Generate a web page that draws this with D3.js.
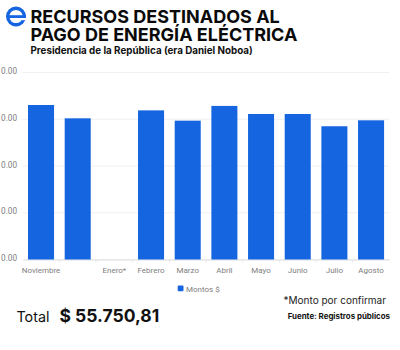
<!DOCTYPE html>
<html>
<head>
<meta charset="utf-8">
<script src="https://cdn.jsdelivr.net/npm/d3@7"></script>
<style>
  html, body { margin: 0; padding: 0; background: #fff; overflow: hidden; }
  svg { display: block; }
</style>
</head>
<body>
<svg id="chart"></svg>
<script>
const categories = ["Noviembre", "Diciembre", "Enero*", "Febrero", "Marzo", "Abril", "Mayo", "Junio", "Julio", "Agosto"];
const tickLabels = ["Noviembre", "", "Enero*", "Febrero", "Marzo", "Abril", "Mayo", "Junio", "Julio", "Agosto"];
const montos = [6610, 6040, 0, 6380, 5940, 6570, 6225, 6225, 5700, 5955];
const yTicks = [0, 2000, 4000, 6000, 8000];
// en el original el resto de cada etiqueta queda fuera del borde izquierdo
const yTickLabels = ["0.00", "0.00", "0.00", "0.00", "0.00"];
const seriesName = "Montos $";
const titleLines = ["RECURSOS DESTINADOS AL", "PAGO DE ENERGÍA ELÉCTRICA"];
const subtitle = "Presidencia de la República (era Daniel Noboa)";

const width = 400, height = 350;
const margin = { top: 72.5, right: 10.6, bottom: 90.5, left: 22.7 };
const blue = "#1565e0";

const svg = d3.select("#chart")
    .attr("width", width)
    .attr("height", height);

// logo
const logo = svg.append("g").attr("transform", "translate(16,16.5)");
logo.append("circle").attr("r", 10).attr("fill", blue);
logo.append("circle").attr("r", 6.6).attr("fill", "#fff");
logo.append("rect").attr("x", -7).attr("y", -1.3).attr("width", 17).attr("height", 2.8).attr("fill", blue);
logo.append("rect").attr("x", 5).attr("y", 1.5).attr("width", 6).attr("height", 2.2).attr("fill", "#fff");

// titulo
svg.selectAll(".title")
    .data(titleLines)
    .enter()
    .append("text")
    .attr("class", "title")
    .attr("x", 30.5)
    .attr("y", (d, i) => 23 + i * 18)
    .style("font", "700 18px Inter")
    .style("fill", "#0a0a0a")
    .text(d => d);

svg.append("text")
    .attr("x", 30.5)
    .attr("y", 53.5)
    .style("font", "700 9.8px Inter")
    .style("fill", "#111")
    .text(subtitle);

const x = d3.scaleBand()
    .domain(categories)
    .range([margin.left, width - margin.right])
    .paddingInner(0.29)
    .paddingOuter(0.145);

const y = d3.scaleLinear()
    .domain([0, 8000])
    .range([height - margin.bottom, margin.top]);

// rejilla
svg.append("g")
    .selectAll("line")
    .data(yTicks)
    .enter()
    .append("line")
    .attr("x1", margin.left)
    .attr("x2", width - margin.right)
    .attr("y1", d => y(d))
    .attr("y2", d => y(d))
    .attr("stroke", "#f0f0f0");

svg.append("g")
    .selectAll("text")
    .data(yTicks)
    .enter()
    .append("text")
    .attr("x", 17)
    .attr("y", d => y(d) + 1.5)
    .attr("text-anchor", "end")
    .style("font", "8.2px Roboto")
    .style("fill", "#808080")
    .text((d, i) => yTickLabels[i]);

const xAxis = svg.append("g")
    .attr("transform", `translate(0,${height - margin.bottom})`)
    .call(d3.axisBottom(x).tickSize(0).tickFormat((d, i) => tickLabels[i]));
xAxis.select(".domain").attr("stroke", "#e0e0e0");
xAxis.selectAll("text")
    .attr("y", 8)
    .attr("dy", "0.71em")
    .style("font", "8px Roboto")
    .style("fill", "#808080");

// marcas entre categorias
xAxis.selectAll(".sep")
    .data(categories.slice(1))
    .enter()
    .append("line")
    .attr("class", "sep")
    .attr("x1", d => x(d) - x.step() * 0.145)
    .attr("x2", d => x(d) - x.step() * 0.145)
    .attr("y1", 0)
    .attr("y2", 3)
    .attr("stroke", "#e8e8e8");

svg.selectAll(".bar")
    .data(categories)
    .enter()
    .append("rect")
    .attr("class", "bar")
    .attr("x", d => x(d))
    .attr("width", x.bandwidth())
    .attr("y", (d, i) => y(montos[i]))
    .attr("height", (d, i) => y(0) - y(montos[i]))
    .attr("fill", blue);

// leyenda
svg.append("rect").attr("x", 177.7).attr("y", 285.5).attr("width", 5.8).attr("height", 5.8).attr("rx", 1).attr("fill", blue);
svg.append("text").attr("x", 186).attr("y", 291.5)
    .style("font", "8px Roboto").style("fill", "#808080").text(seriesName);

svg.append("text").attr("x", 16.5).attr("y", 321.5)
    .style("font", "400 14.3px Inter").style("fill", "#111").text("Total");
svg.append("text").attr("x", 59.5).attr("y", 322)
    .style("font", "700 17.5px Inter").style("fill", "#111").text("$ 55.750,81");
svg.append("text").attr("x", 386).attr("y", 304).attr("text-anchor", "end")
    .style("font", "400 10px Inter").style("fill", "#222").text("*Monto por confirmar");
svg.append("text").attr("x", 390).attr("y", 319).attr("text-anchor", "end")
    .style("font", "700 7.9px Inter").style("fill", "#111").text("Fuente: Registros públicos");
</script>
</body>
</html>
